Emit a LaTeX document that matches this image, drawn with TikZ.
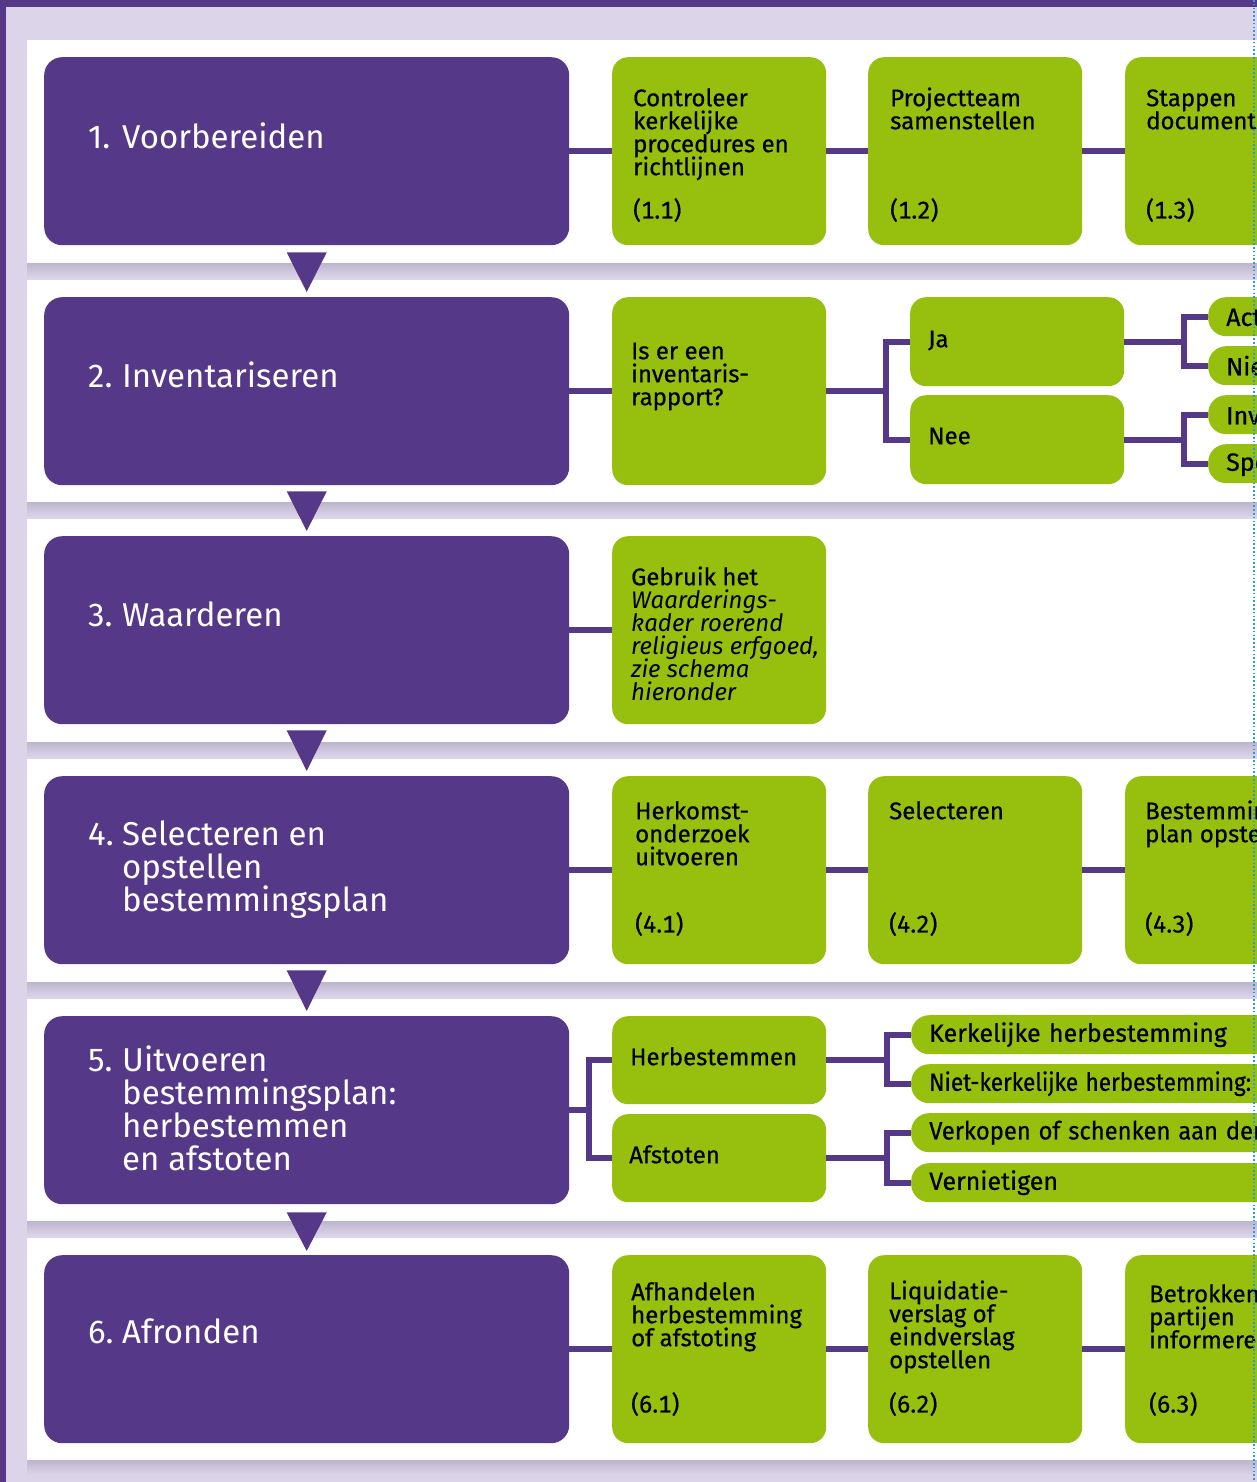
\documentclass[tikz,border=0pt]{standalone}
\usepackage{fontspec}
\setmainfont{Fira Sans}
\newfontfamily\gfont{Fira Sans}[FakeBold=0.6, Numbers=Monospaced]
\newfontfamily\gitfont{Fira Sans}[Numbers=Monospaced]
\usepackage{graphicx}
\usetikzlibrary{calc}
\definecolor{pur}{HTML}{563889}
\definecolor{grn}{HTML}{97BF0D}
\definecolor{lav}{HTML}{DCD5E9}
\definecolor{shd}{HTML}{BDB5CC}
\definecolor{dotblue}{HTML}{1FA0E0}
\newcommand{\gl}{\rule{0pt}{20pt}}
\newcommand{\pl}{\rule{0pt}{28pt}}
\newcommand{\tight}{\lineskiplimit=-30pt\lineskip=0pt}
\newcommand{\itl}[1]{{\gitfont\itshape #1}}
\begin{document}
\begin{tikzpicture}[x=1pt,y=-1pt,
  pbox/.style={fill=pur, rounded corners=18pt, minimum width=525pt, minimum height=188pt, inner sep=0pt, anchor=north west},
  gbox/.style={fill=grn, rounded corners=16pt, minimum width=214pt, minimum height=188pt, inner sep=0pt, anchor=north west},
  sbox/.style={fill=grn, rounded corners=18pt, minimum height=39pt, text width=400pt, inner xsep=18pt, inner ysep=0pt, align=left, anchor=north west, font=\gfont\fontsize{25}{25}\selectfont},
  ptxt/.style={text=white, font=\fontsize{33}{33}\selectfont\tight, inner sep=0pt, align=left, anchor=north west},
  gtxt/.style={text=black, font=\gfont\fontsize{24}{23}\selectfont\tight, inner sep=0pt, align=left, anchor=north west},
  conn/.style={draw=pur, line width=6pt, line join=miter},
  tri/.style={fill=pur}]
\useasboundingbox (0,0) rectangle (1257,1482);
\clip (0,0) rectangle (1257,1482);
% frame
\fill[lav] (0,0) rectangle (1257,1482);
\fill[pur] (0,0) rectangle (1257,7);
\fill[pur] (0,0) rectangle (6,1482);
% panels
\foreach \t/\b in {40/263, 280/502, 519/742, 759/982, 999/1221, 1238/1460} {
  \shade[top color=shd, bottom color=lav] (27,\b) rectangle (1257,\b+15);
  \fill[white] (27,\t) rectangle (1257,\b);
}
% purple boxes
\node[pbox] (p1) at (44,57) {};
\node[pbox] (p2) at (44,297) {};
\node[pbox] (p3) at (44,536) {};
\node[pbox] (p4) at (44,776) {};
\node[pbox] (p5) at (44,1016) {};
\node[pbox] (p6) at (44,1255) {};
% green boxes
\node[gbox] (g11) at (612,57) {};
\node[gbox] (g12) at (868,57) {};
\node[gbox] (g13) at (1125,57) {};
\node[gbox] (g21) at (612,297) {};
\node[gbox, minimum height=89pt] (ja) at (910,297) {};
\node[gbox, minimum height=89pt] (nee) at (910,395) {};
\node[gbox] (g31) at (612,536) {};
\node[gbox] (g41) at (612,776) {};
\node[gbox] (g42) at (868,776) {};
\node[gbox] (g43) at (1125,776) {};
\node[gbox, minimum height=88pt] (herb) at (612,1016) {};
\node[gbox, minimum height=88pt] (afst) at (612,1114) {};
\node[gbox] (g61) at (612,1255) {};
\node[gbox] (g62) at (868,1255) {};
\node[gbox] (g63) at (1125,1255) {};
% small boxes
\node[sbox] (act) at (1208,297) {Actueel};
\node[sbox] (nie) at (1208,346) {Niet actueel};
\node[sbox] (inv) at (1208,395) {Inventariseren};
\node[sbox] (spe) at (1208,444) {Specialist inschakelen};
\node[sbox] (kerk) at (911,1015) {Kerkelijke herbestemming};
\node[sbox] (niet) at (911,1064) {\scalebox{0.9}[1]{Niet-kerkelijke herbestemming:}};
\node[sbox] (verk) at (911,1113) {\scalebox{0.95}[1]{Verkopen of schenken aan derden}};
\node[sbox] (vern) at (911,1163) {Vernietigen};
% connectors
\draw[conn] (p1.east) -- (g11.west);
\draw[conn] (g11.east) -- (g12.west);
\draw[conn] (g12.east) -- (g13.west);
\draw[conn] (p2.east) -- (g21.west);
\draw[conn] (g21.east) -| ($(ja.west)+(-24,0)$) -- (ja.west);
\draw[conn] (g21.east) -| ($(nee.west)+(-24,0)$) -- (nee.west);
\draw[conn] (ja.east) -| ($(act.west)+(-24,0)$) -- (act.west);
\draw[conn] (ja.east) -| ($(nie.west)+(-24,0)$) -- (nie.west);
\draw[conn] (nee.east) -| ($(inv.west)+(-24,0)$) -- (inv.west);
\draw[conn] (nee.east) -| ($(spe.west)+(-24,0)$) -- (spe.west);
\draw[conn] (p3.east) -- (g31.west);
\draw[conn] (p4.east) -- (g41.west);
\draw[conn] (g41.east) -- (g42.west);
\draw[conn] (g42.east) -- (g43.west);
\draw[conn] (p5.east) -| ($(herb.west)+(-23,0)$) -- (herb.west);
\draw[conn] (p5.east) -| ($(afst.west)+(-23,0)$) -- (afst.west);
\draw[conn] (herb.east) -| ($(kerk.west)+(-24,0)$) -- (kerk.west);
\draw[conn] (herb.east) -| ($(niet.west)+(-24,0)$) -- (niet.west);
\draw[conn] (afst.east) -| ($(verk.west)+(-24,0)$) -- (verk.west);
\draw[conn] (afst.east) -| ($(vern.west)+(-24,0)$) -- (vern.west);
\draw[conn] (p6.east) -- (g61.west);
\draw[conn] (g61.east) -- (g62.west);
\draw[conn] (g62.east) -- (g63.west);
% triangles
\fill[tri] ($(p1.south)+(-20,7)$) -- ($(p1.south)+(20,7)$) -- ($(p2.north)+(0,-5)$) -- cycle;
\fill[tri] ($(p2.south)+(-20,6)$) -- ($(p2.south)+(20,6)$) -- ($(p3.north)+(0,-5)$) -- cycle;
\fill[tri] ($(p3.south)+(-20,6)$) -- ($(p3.south)+(20,6)$) -- ($(p4.north)+(0,-5)$) -- cycle;
\fill[tri] ($(p4.south)+(-20,6)$) -- ($(p4.south)+(20,6)$) -- ($(p5.north)+(0,-5)$) -- cycle;
\fill[tri] ($(p5.south)+(-20,8)$) -- ($(p5.south)+(20,8)$) -- ($(p6.north)+(0,-4)$) -- cycle;
% purple texts
\node[ptxt] (pn1) at (88,120) {\pl 1.};
\node[ptxt] (pt1) at (122,120) {\pl Voorbereiden};
\node[ptxt] (pn2) at (88,359) {\pl 2.};
\node[ptxt] (pt2) at (122,359) {\pl Inventariseren};
\node[ptxt] (pn3) at (88,598) {\pl 3.};
\node[ptxt] (pt3) at (122,598) {\pl Waarderen};
\node[ptxt] (pn4) at (88,817) {\pl 4.};
\node[ptxt] (pt4) at (122,817) {\pl Selecteren en\\opstellen\\bestemmingsplan};
\node[ptxt] (pn5) at (88,1043) {\pl 5.};
\node[ptxt] (pt5) at (122,1043) {\pl Uitvoeren\\bestemmingsplan:\\herbestemmen\\en afstoten};
\node[ptxt] (pn6) at (88,1315) {\pl 6.};
\node[ptxt] (pt6) at (122,1315) {\pl Afronden};
% green texts
\node[gtxt] (t11) at (633,86) {\gl Controleer\\kerkelijke\\procedures en\\richtlijnen};
\node[gtxt] (n11) at (633,198) {\gl(1.1)};
\node[gtxt] (t12) at (890,86) {\gl Projectteam\\samenstellen};
\node[gtxt] (n12) at (890,198) {\gl(1.2)};
\node[gtxt] (t13) at (1146,86) {\gl Stappen\\documenteren};
\node[gtxt] (n13) at (1146,198) {\gl(1.3)};
\node[gtxt] (t21) at (631,339) {\gl Is er een\\inventaris-\\rapport?};
\node[gtxt] (tja) at (928,327) {\gl Ja};
\node[gtxt] (tnee) at (928,424) {\gl Nee};
\node[gtxt] (t31) at (631,565) {\gl Gebruik het\\\itl{Waarderings-}\\\itl{kader roerend}\\\itl{religieus erfgoed,}\\\itl{zie schema}\\\itl{hieronder}};
\node[gtxt] (t41) at (635,799) {\gl Herkomst-\\onderzoek\\uitvoeren};
\node[gtxt] (n41) at (635,912) {\gl(4.1)};
\node[gtxt] (t42) at (889,799) {\gl Selecteren};
\node[gtxt] (n42) at (889,912) {\gl(4.2)};
\node[gtxt] (t43) at (1145,799) {\gl Bestemmings-\\plan opstellen};
\node[gtxt] (n43) at (1145,912) {\gl(4.3)};
\node[gtxt] (therb) at (630,1045) {\gl Herbestemmen};
\node[gtxt] (tafst) at (629,1143) {\gl Afstoten};
\node[gtxt] (t61) at (631,1280) {\gl Afhandelen\\herbestemming\\of afstoting};
\node[gtxt] (n61) at (631,1392) {\gl(6.1)};
\node[gtxt] (t62) at (889,1279) {\gl Liquidatie-\\verslag of\\eindverslag\\opstellen};
\node[gtxt] (n62) at (889,1392) {\gl(6.2)};
\node[gtxt] (t63) at (1149,1282) {\gl Betrokken\\partijen\\informeren};
\node[gtxt] (n63) at (1149,1392) {\gl(6.3)};
% dotted guide
\coordinate (dt) at (1254,0);
\coordinate (db) at (1254,1482);
\draw[dotblue, line width=1.6pt, dash pattern=on 1.6pt off 2.2pt] (dt) -- (db);
\end{tikzpicture}
\end{document}
